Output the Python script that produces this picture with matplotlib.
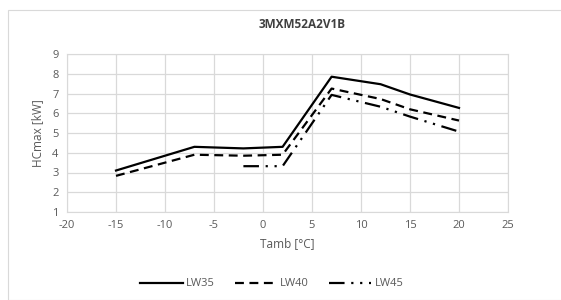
import matplotlib.pyplot as plt

# heating capacity vs ambient temperature
t35 = [-15, -7, -2, 2, 7, 12, 15, 20]
lw35 = [3.1, 4.3, 4.22, 4.3, 7.85, 7.47, 6.95, 6.27]

t40 = [-15, -7, -2, 2, 7, 12, 15, 20]
lw40 = [2.83, 3.9, 3.85, 3.9, 7.25, 6.72, 6.2, 5.63]

t45 = [-2, 2, 7, 12, 15, 20]
lw45 = [3.32, 3.32, 6.93, 6.33, 5.83, 5.07]

grey = '#595959'
plt.rcParams['font.family'] = ['Open Sans', 'DejaVu Sans']
plt.rcParams['axes.unicode_minus'] = False

fig = plt.figure(figsize=(5.61, 3.0), dpi=100)
ax = fig.add_axes([67/561, 1 - 212/300, 441/561, 158/300])

ax.plot(t35, lw35, color='black', lw=1.6, label='LW35')
ax.plot(t40, lw40, color='black', lw=1.6, dashes=(4, 2.5), label='LW40')
ax.plot(t45, lw45, color='black', lw=1.6, dashes=(7, 3, 1, 3, 1, 3), label='LW45')

ax.set_xlim(-20, 25)
ax.set_ylim(1, 9)
ax.set_xticks(range(-20, 26, 5))
ax.set_yticks(range(1, 10))
ax.grid(True, color='#d9d9d9', lw=0.9)
ax.set_axisbelow(True)
for s in ax.spines.values():
    s.set_color('#d9d9d9')
ax.tick_params(length=0, labelsize=8, labelcolor=grey, pad=6)

ax.set_xlabel('Tamb [°C]', fontsize=8.5, color=grey, labelpad=4)
ax.set_ylabel('HCmax [kW]', fontsize=8.5, color=grey, labelpad=6)
fig.text(302/561, 1 - 25/300, '3MXM52A2V1B', ha='center', va='center',
         fontsize=8.5, fontweight='bold', color='#404040')

fig.legend(loc='center', bbox_to_anchor=(272/561, 1 - 284/300), ncol=3, frameon=False,
           fontsize=8, labelcolor=grey, handlelength=3.8, columnspacing=1.8, handletextpad=0.3)

# outer chart border
fig.patches.append(plt.Rectangle((8/561, 0), 1, 1 - 10/300, transform=fig.transFigure,
                                 fill=False, edgecolor='#d9d9d9', lw=0.8))

fig.savefig('out.png', dpi=100)
